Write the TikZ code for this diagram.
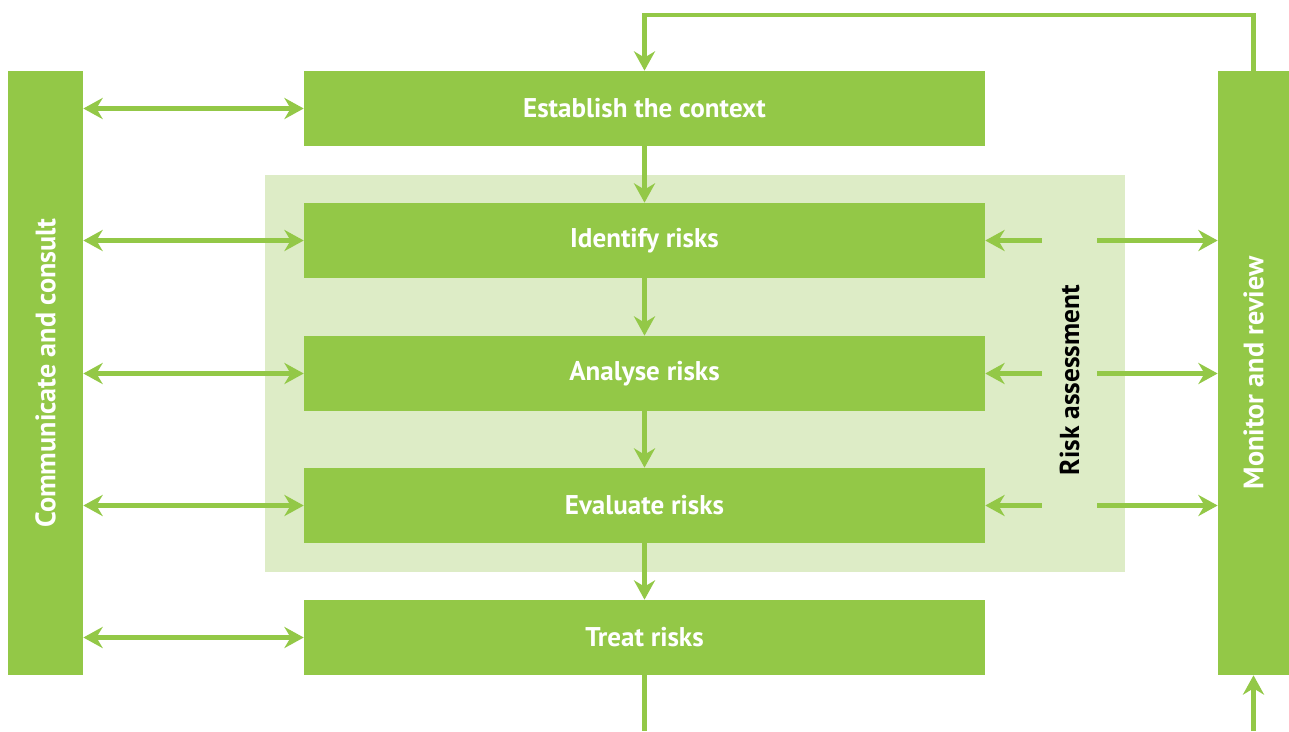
\documentclass[tikz,border=0pt]{standalone}
\usepackage{fontspec}
\setmainfont{PT Sans}
\usepackage{xcolor}
\usetikzlibrary{arrows.meta}
\usetikzlibrary{positioning}
\usetikzlibrary{calc}

\definecolor{riskgreen}{RGB}{147,200,71}
\definecolor{risklight}{RGB}{221,236,198}

\begin{document}
\begin{tikzpicture}[x=0.02cm,y=-0.02cm,
    stepbox/.style={fill=riskgreen,inner sep=0pt,minimum width=13.62cm,minimum height=1.5cm,
      text=white,font=\bfseries\fontsize{15.4}{17}\selectfont},
    sidebar/.style={fill=riskgreen,inner sep=0pt,minimum height=12.08cm,
      text=white,font=\bfseries\fontsize{16}{18}\selectfont},
    flow/.style={draw=riskgreen,line width=2.3pt,-{Stealth[length=11pt,width=12pt]}},
    both/.style={flow,{Stealth[length=11pt,width=12pt]}-{Stealth[length=11pt,width=12pt]}}]
  \useasboundingbox (0,0) rectangle (1289,731);
  % risk assessment area
  \node[fill=risklight,minimum width=17.2cm,minimum height=7.94cm,inner sep=0pt] (area) at (695,373.5) {};
  \node[minimum width=1.1cm,inner sep=0pt,font=\bfseries\fontsize{15.6}{17}\selectfont] (riskl) at (1069.5,380)
    {\rotatebox{90}{Risk assessment}};
  \begin{scope}[every node/.style={stepbox}]
    \node (est) at (644.5,108.5) {Establish the context};
    \node (ident) at (644.5,240.5) {Identify risks};
    \node (anal) at (644.5,373.5) {Analyse risks};
    \node (eval) at (644.5,505.5) {Evaluate risks};
    \node (treat) at (644.5,637.5) {Treat risks};
  \end{scope}
  \node[sidebar,minimum width=1.5cm] (comm) at (45.5,373) {\rotatebox{90}{Communicate and consult}};
  \node[sidebar,minimum width=1.42cm] (mon) at (1253.5,373) {\rotatebox{90}{Monitor and review}};
  \coordinate (treatout) at (644.5,731);
  \coordinate (monin) at (1253.5,731);
  % main flow
  \draw[flow] (est) -- (ident);
  \draw[flow] (ident) -- (anal);
  \draw[flow] (anal) -- (eval);
  \draw[flow] (eval) -- (treat);
  \draw[draw=riskgreen,line width=2.3pt] (treat) -- (treatout);
  \draw[flow] (monin) -- (mon);
  \draw[flow] (mon.north) -- ++(0,-56) -| (est.north);
  % communicate
  \foreach \n in {est,ident,anal,eval,treat}
    \draw[both] (comm.east |- \n) -- (\n.west);
  % monitor
  \foreach \n in {ident,anal,eval} {
    \draw[flow] (riskl.west |- \n) -- (\n.east);
    \draw[flow] (riskl.east |- \n) -- (mon.west |- \n);
  }
\end{tikzpicture}
\end{document}
